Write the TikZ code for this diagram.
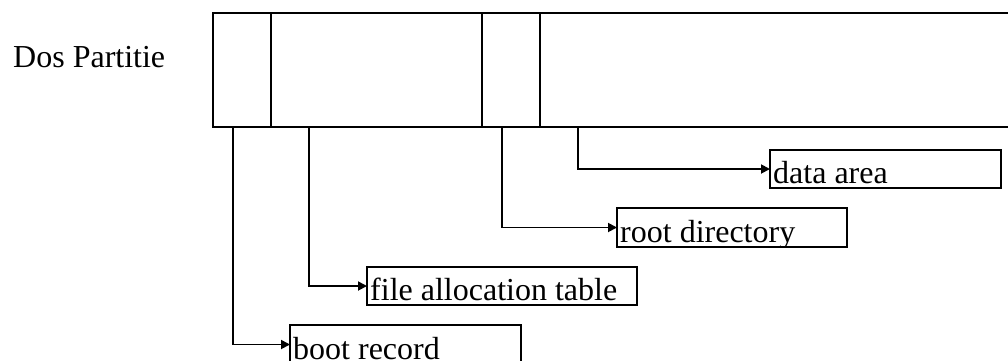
\documentclass[tikz,border=0pt]{standalone}
\usepackage{fontspec}
\setmainfont{Liberation Serif}
\usetikzlibrary{arrows.meta,calc}
\begin{document}
\begin{tikzpicture}[x=1pt,y=-1pt,
  seg/.style={draw, line width=2pt, minimum height=114pt, inner sep=0pt,
    outer sep=0pt, anchor=north west},
  lbl/.style={draw, line width=1.8pt, inner sep=0pt, outer sep=0pt,
    anchor=north west},
  txt/.style={anchor=base west, inner sep=0pt,
    font=\fontsize{32}{36}\selectfont},
  conn/.style={line width=1.8pt, -{Triangle[length=9pt,width=9pt]}}
]
\useasboundingbox (0,0) rectangle (1008,360);
\clip (0,0) rectangle (1008,360);

% partition title
\node[txt] (title) at (13,67) {Dos Partitie};

% the partition, split into its four areas
\node[seg, minimum width=58pt]  (boot) at (213,13) {};
\node[seg, minimum width=211pt] (fat)  at (271,13) {};
\node[seg, minimum width=58pt]  (root) at (482,13) {};
\node[seg, minimum width=500pt] (data) at (540,13) {};

% label boxes
\node[lbl, minimum width=231pt, minimum height=38pt] (datalbl) at (770,150) {};
\node[lbl, minimum width=230pt, minimum height=39pt] (rootlbl) at (617,208) {};
\node[lbl, minimum width=270pt, minimum height=38pt] (fatlbl)  at (367,267) {};
\node[lbl, minimum width=231pt, minimum height=39pt] (bootlbl) at (290,325) {};

% label texts, kept inside their boxes
\foreach \b/\t in {datalbl/data area, rootlbl/root directory,
                   fatlbl/file allocation table, bootlbl/boot record}{
  \begin{scope}
    \clip (\b.south west) rectangle (\b.north east);
    \node[txt] at ($(\b.south west)+(3,-5)$) {\t};
  \end{scope}
}

% connectors from each area to its label
\draw[conn] ($(boot.south west)+(20,0)$) |- (bootlbl.west);
\draw[conn] ($(fat.south west)+(38,0)$)  |- (fatlbl.west);
\draw[conn] ($(root.south west)+(20,0)$) |- (rootlbl.west);
\draw[conn] ($(data.south west)+(38,0)$) |- (datalbl.west);
\end{tikzpicture}
\end{document}
